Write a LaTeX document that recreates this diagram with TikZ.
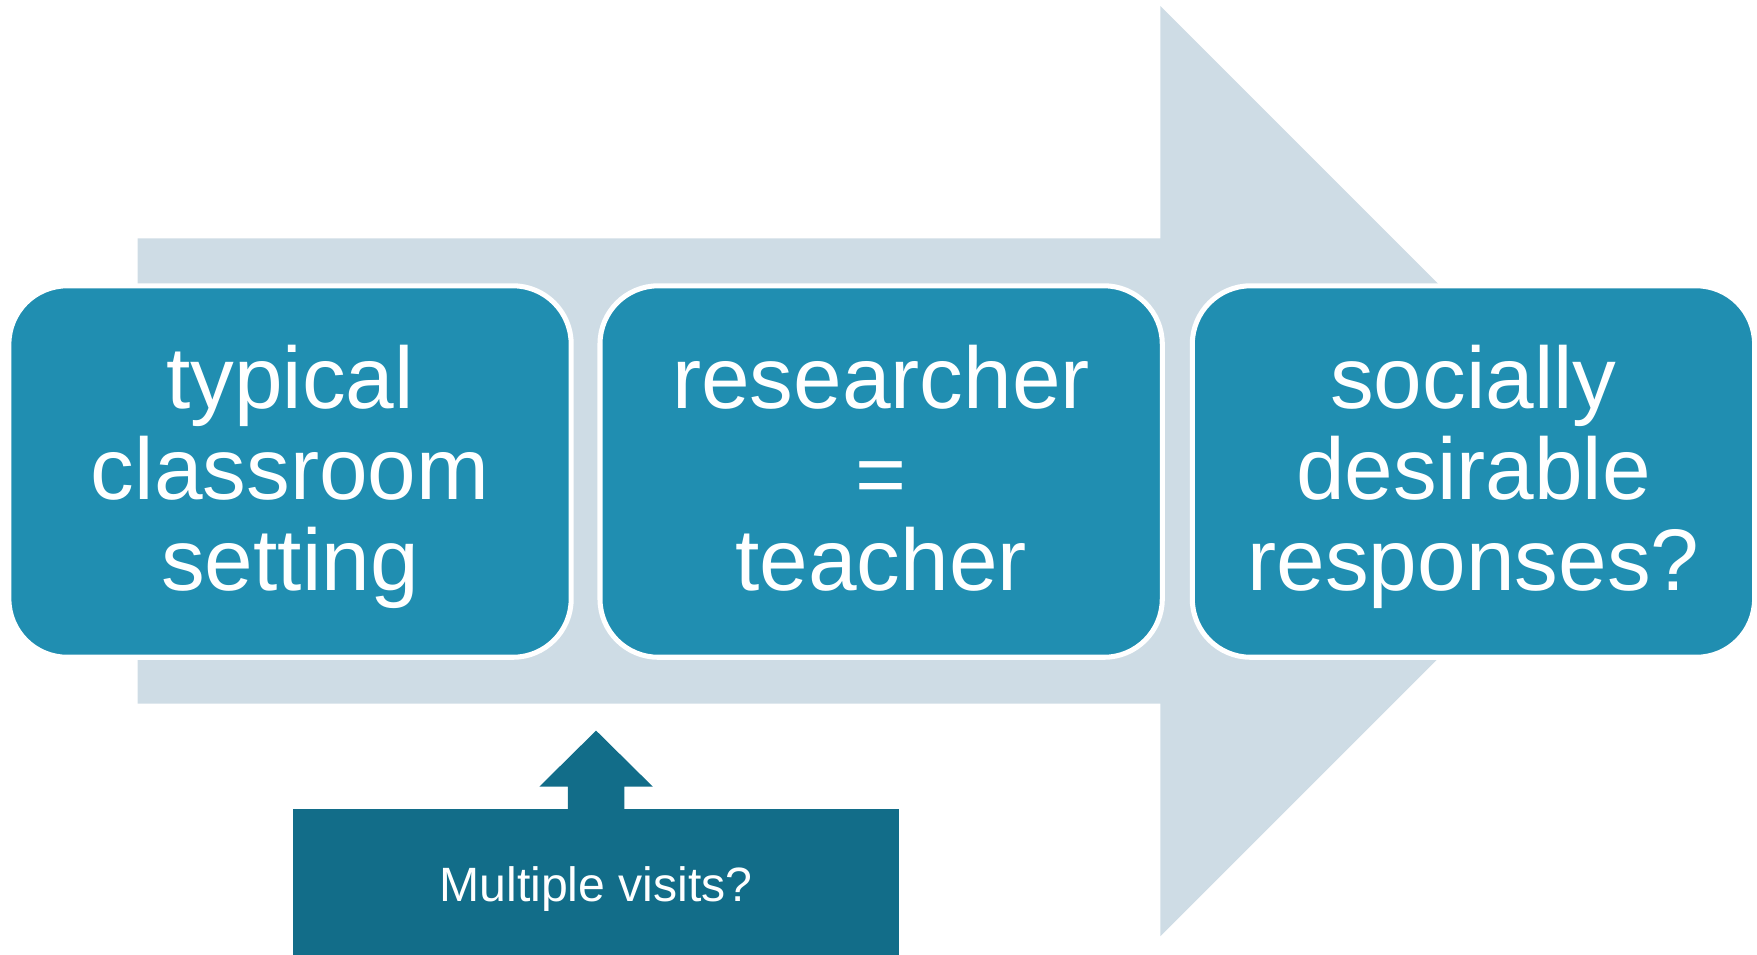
\documentclass[tikz,border=0pt]{standalone}
\usepackage{fontspec}
\setmainfont{Liberation Sans}
\definecolor{arrowbg}{HTML}{CEDCE5}
\definecolor{boxblue}{HTML}{208EB1}
\definecolor{darkteal}{HTML}{126D89}
\begin{document}
\begin{tikzpicture}[x=0.3pt,y=-0.3pt,
  stepbox/.style={draw=white, line width=1.35pt, fill=boxblue, rounded corners=15.6pt,
    minimum width=150.54pt, minimum height=99.45pt, inner sep=0pt, outer sep=0pt},
  bigtext/.style={text=white, align=center, inner sep=0pt, anchor=north,
    font=\fontsize{23.4pt}{24.36pt}\selectfont},
  notebox/.style={fill=darkteal, minimum width=162.03pt, minimum height=41.31pt,
    inner sep=0pt, outer sep=0pt},
  notetext/.style={text=white, inner sep=0pt, anchor=base,
    font=\fontsize{12.9pt}{15pt}\selectfont}]
\useasboundingbox (0,0) rectangle (1568,851.4);
\clip (0,0) rectangle (1568,851.4);
% big background arrow
\fill[arrowbg] (122.8,212.7) -- (1035.6,212.7) -- (1035.6,5.4) -- (1450.6,420.4)
  -- (1035.6,835.4) -- (1035.6,628) -- (122.8,628) -- cycle;
% boxes
\node[stepbox] (b1) at (258.85,420.8) {};
\node[stepbox] (b2) at (786.35,420.8) {};
\node[stepbox] (b3) at (1314.95,420.8) {};
\node[bigtext] (t1) at (258.85,307.6) {typical\\classroom\\setting};
\node[bigtext] (t2) at (786.35,307.6) {researcher\\\raisebox{-1.2pt}{=}\\teacher};
\node[bigtext] (t3) at (1314.95,307.6) {socially\\desirable\\responses?};
% note box
\node[notebox] (mv) at (531.95,791.15) {};
\node[notetext] (mvt) at (532,804.8) {Multiple visits?};
% up arrow
\fill[darkteal] (mv.north) ++(-25.15,0) -- ++(0,-20.3) -- ++(-25.45,0) -- ++(50.6,-50)
  -- ++(50.6,50) -- ++(-25.45,0) -- ++(0,20.3) -- cycle;
\end{tikzpicture}
\end{document}
